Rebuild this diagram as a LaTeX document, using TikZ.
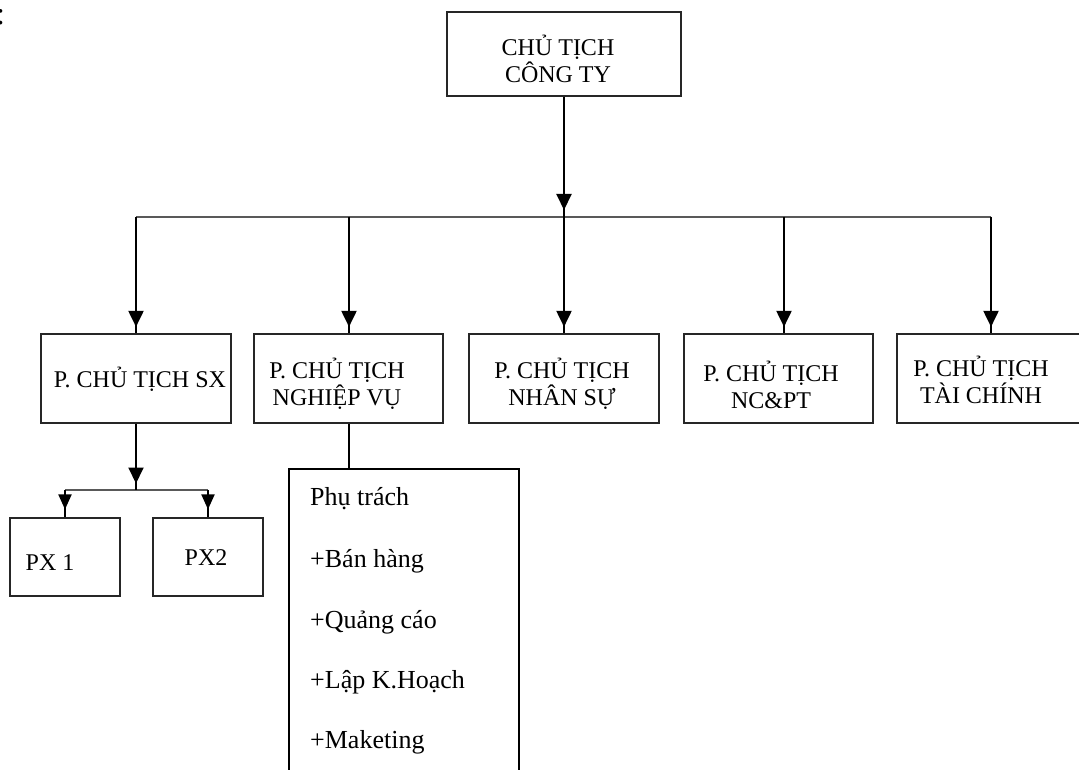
\documentclass[tikz,border=0pt]{standalone}
\usepackage{fontspec}
\setmainfont{Liberation Serif}
\usetikzlibrary{arrows.meta}
\begin{document}
\begin{tikzpicture}[x=1pt,y=-1pt,
  box/.style={draw=black!85, line width=1.2pt, rectangle, inner sep=0pt},
  txt/.style={font=\fontsize{24}{27}\selectfont, align=center, inner sep=0pt},
  lst/.style={font=\fontsize{26}{30}\selectfont, anchor=base west, inner sep=0pt},
  stub/.style={line width=2pt},
  arr/.style={line width=2pt, -{Triangle[width=15pt,length=16pt]}, shorten >=6.5pt},
  sarr/.style={line width=2pt, -{Triangle[width=13pt,length=15pt]}, shorten >=8pt},
  bus/.style={line width=1.5pt, draw=black!65},
]
\useasboundingbox (0,0) rectangle (1079,770);
\clip (0,0) rectangle (1079,770);

% fragment of a colon at the left edge
\node[font=\fontsize{32}{36}\selectfont, anchor=base, inner sep=0pt] (colon) at (0.5,25) {:};

% boxes
\node[box, minimum width=234, minimum height=84] (ct) at (564,54) {};
\node[box, minimum width=190, minimum height=89] (sx) at (136,378.5) {};
\node[box, minimum width=189, minimum height=89] (nv) at (348.5,378.5) {};
\node[box, minimum width=190, minimum height=89] (ns) at (564,378.5) {};
\node[box, minimum width=189, minimum height=89] (nc) at (778.5,378.5) {};
\node[box, minimum width=193, minimum height=89] (tc) at (993.5,378.5) {};
\node[box, minimum width=110, minimum height=78] (px1) at (65,557) {};
\node[box, minimum width=110, minimum height=78] (px2) at (208,557) {};
\node[box, draw=black, line width=2pt, minimum width=230, minimum height=331] (pt) at (404,634.5) {};

% texts
\node[txt] (ctT) at (558,58.5) {CHỦ TỊCH\\CÔNG TY};
\node[txt] (sxT) at (140,379) {P. CHỦ TỊCH SX};
\node[txt] (nvT) at (337,383.5) {P. CHỦ TỊCH\\NGHIỆP VỤ};
\node[txt] (nsT) at (562,383.5) {P. CHỦ TỊCH\\NHÂN SỰ};
\node[txt] (ncT) at (771,385) {P. CHỦ TỊCH\\NC\&PT};
\node[txt] (tcT) at (981,380) {P. CHỦ TỊCH\\TÀI CHÍNH};
\node[txt] (px1T) at (50,563) {PX 1};
\node[txt] (px2T) at (206,558) {PX2};

\node[lst] (l1) at (310,505) {Phụ trách};
\node[lst] (l2) at (310,567) {+Bán hàng};
\node[lst] (l3) at (310,628) {+Quảng cáo};
\node[lst] (l4) at (310,688) {+Lập K.Hoạch};
\node[lst] (l5) at (310,748) {+Maketing};

% junction coordinates
\coordinate (j0) at (564,217);
\coordinate (bL) at (136,217);
\coordinate (b2) at (349,217);
\coordinate (b4) at (784,217);
\coordinate (bR) at (991,217);
\coordinate (j2) at (136,490);
\coordinate (p1) at (65,490);
\coordinate (p2) at (208,490);

% bus lines
\draw[bus] (bL) -- (bR);
\draw[bus] (p1) -- (p2);

% main arrow
\draw[stub] (ct.south) -- (j0);
\draw[arr] (ct.south) -- ([yshift=0.5]j0);

% arrows to second level
\draw[stub] (bL) -- (sx.north);
\draw[arr] (bL) -- (sx.north);
\draw[stub] (b2) -- (b2 |- nv.north);
\draw[arr] (b2) -- (b2 |- nv.north);
\draw[stub] (j0) -- (ns.north);
\draw[arr] (j0) -- (ns.north);
\draw[stub] (b4) -- (b4 |- nc.north);
\draw[arr] (b4) -- (b4 |- nc.north);
\draw[stub] (bR) -- (bR |- tc.north);
\draw[arr] (bR) -- (bR |- tc.north);

% SX to PX
\draw[stub] (sx.south) -- (j2);
\draw[arr] (sx.south) -- (j2);
\draw[stub] (p1) -- (px1.north);
\draw[sarr] (p1) -- (px1.north);
\draw[stub] (p2) -- (px2.north);
\draw[sarr] (p2) -- (px2.north);

% nghiep vu to list
\draw[stub] (nv.south) -- (nv.south |- pt.north);
\end{tikzpicture}
\end{document}
